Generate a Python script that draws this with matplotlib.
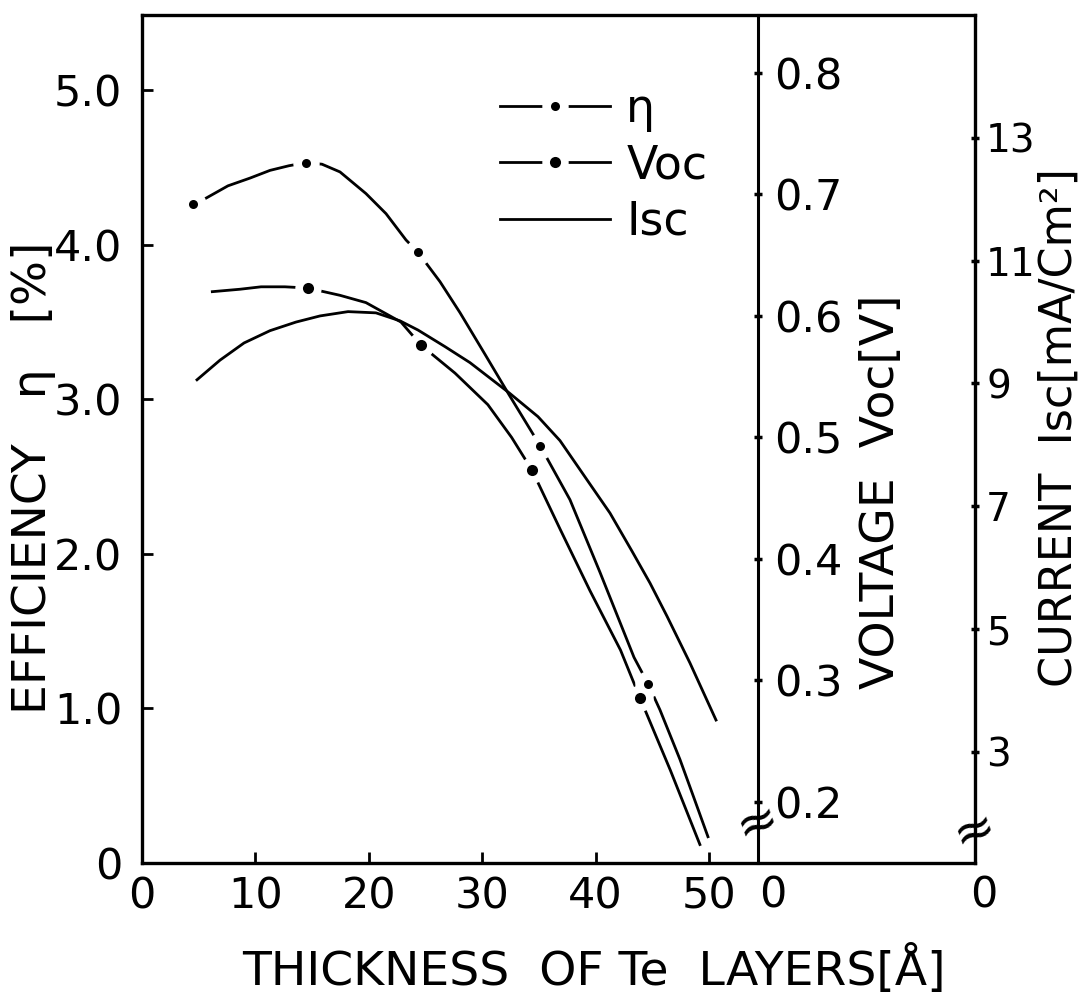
import matplotlib.pyplot as plt
from matplotlib.lines import Line2D
from matplotlib.legend_handler import HandlerTuple

# values (thickness of Te layers in Angstrom)
eta_x = [4.5, 5.64, 7.58, 9.52, 11.29, 12.96, 14.46, 15.87, 17.46, 19.75, 21.52, 23.28, 24.34,
         26.28, 28.04, 30.25, 32.36, 35.1, 37.74, 40.39, 43.39, 44.62, 45.68, 47.44, 48.68, 49.91]
eta_y = [4.26, 4.30, 4.38, 4.43, 4.48, 4.51, 4.53, 4.52, 4.47, 4.33, 4.20, 4.03, 3.95,
         3.76, 3.56, 3.29, 3.03, 2.70, 2.35, 1.88, 1.33, 1.16, 0.99, 0.67, 0.42, 0.17]
eta_pt_x = [4.5, 14.46, 24.34, 35.1, 44.62]
eta_pt_y = [4.26, 4.53, 3.95, 2.70, 1.16]

voc_x = [6.2, 8.64, 10.5, 12.6, 14.6, 17.46, 19.75, 22.84, 24.6, 27.6, 30.5, 32.6, 34.4,
         36.9, 39.5, 42.2, 43.9, 46.6, 49.2]
voc_y = [0.620, 0.622, 0.624, 0.624, 0.623, 0.617, 0.611, 0.595, 0.576, 0.553, 0.527, 0.500, 0.473,
         0.424, 0.374, 0.325, 0.286, 0.226, 0.165]
voc_pt_x = [14.6, 24.6, 34.4, 43.9]
voc_pt_y = [0.623, 0.576, 0.473, 0.286]

isc_x = [4.85, 6.88, 9.0, 11.29, 13.58, 15.7, 18.17, 20.63, 22.75, 24.34, 26.72, 28.92, 32.36,
         34.92, 36.86, 39.51, 41.27, 43.21, 44.8, 46.3, 48.32, 50.62]
isc_y = [9.06, 9.38, 9.66, 9.86, 10.00, 10.10, 10.17, 10.15, 10.02, 9.87, 9.60, 9.34, 8.85,
         8.46, 8.07, 7.36, 6.89, 6.27, 5.75, 5.21, 4.45, 3.52]

x_ticks = [0, 10, 20, 30, 40, 50]
eff_ticks = [0, 1, 2, 3, 4, 5]
eff_labels = ['0', '1.0', '2.0', '3.0', '4.0', '5.0']
voc_ticks = [0.2, 0.3, 0.4, 0.5, 0.6, 0.7, 0.8]
isc_ticks = [3, 5, 7, 9, 11, 13]

voc_axis_at = 54.3   # thickness where the Voc axis is drawn
x_max = 73.46

FS = 31
LFS = 34
plt.rcParams['font.family'] = ['DejaVu Sans']

fig = plt.figure(figsize=(10.91, 9.99), dpi=100)
ax = fig.add_axes([142 / 1091, 1 - 863 / 999, 833 / 1091, 848 / 999])
axv = ax.twinx()
axi = ax.twinx()

# efficiency and Voc curves
ax.plot(eta_x, eta_y, color='k', lw=2)
axv.plot(voc_x, voc_y, color='k', lw=2)

# measured points with a white gap round them, then Isc on top
axi.plot(eta_pt_x, eta_pt_y, 'o', color='white', ms=19, mew=0, transform=ax.transData, zorder=3)
axi.plot(voc_pt_x, voc_pt_y, 'o', color='white', ms=19, mew=0, transform=axv.transData, zorder=3)
axi.plot(eta_pt_x, eta_pt_y, 'o', color='k', ms=6.5, mew=0, transform=ax.transData, zorder=4)
axi.plot(voc_pt_x, voc_pt_y, 'o', color='k', ms=8, mew=0, transform=axv.transData, zorder=4)
axi.plot(isc_x, isc_y, color='k', lw=2, zorder=5)

ax.set_xlim(0, x_max)
ax.set_ylim(0, 5.485)
axv.set_ylim(0.1498, 0.8477)
axi.set_ylim(1.192, 15.0)

# spines
for s in ['left', 'bottom', 'top']:
    ax.spines[s].set_linewidth(2.4)
ax.spines['right'].set_visible(False)
for s in ['left', 'bottom', 'top']:
    axv.spines[s].set_visible(False)
    axi.spines[s].set_visible(False)
axv.spines['right'].set_position(('data', voc_axis_at))
axv.spines['right'].set_linewidth(2.2)
axi.spines['right'].set_linewidth(2.4)

# ticks
ax.set_xticks(x_ticks)
ax.set_xticklabels([str(v) for v in x_ticks])
ax.set_yticks(eff_ticks)
ax.set_yticklabels(eff_labels)
ax.tick_params(axis='both', direction='in', length=8, width=2, labelsize=FS, top=False, right=False)
ax.tick_params(axis='y', pad=14)
ax.tick_params(axis='x', pad=9)

axv.set_yticks(voc_ticks)
axv.set_yticklabels(['%.1f' % v for v in voc_ticks])
axv.tick_params(axis='y', direction='inout', length=6, width=2.5, labelsize=FS, pad=9)

axi.set_yticks(isc_ticks)
axi.set_yticklabels([str(v) for v in isc_ticks])
axi.tick_params(axis='y', direction='inout', length=6, width=2.5, labelsize=28, pad=5)

# zero labels under the Voc and Isc axes
ax.annotate('0', xy=(voc_axis_at, 0), xycoords=('data', 'axes fraction'), xytext=(11, -8),
            textcoords='offset points', ha='center', va='top', fontsize=FS)
ax.annotate('0', xy=(x_max, 0), xycoords=('data', 'axes fraction'), xytext=(6.5, -8),
            textcoords='offset points', ha='center', va='top', fontsize=FS)

# axis breaks
ax.text(voc_axis_at, 0.26, '\u2248', fontsize=36, rotation=20, ha='center', va='center')
ax.text(x_max, 0.21, '\u2248', fontsize=36, rotation=20, ha='center', va='center', clip_on=False)

# labels
ax.set_xlabel('THICKNESS  OF Te  LAYERS[\u00c5]', fontsize=LFS)
ax.xaxis.set_label_coords(0.543, -0.144)
ax.xaxis.label.set_va('baseline')
ax.set_ylabel('EFFICIENCY   \u03b7   [%]', fontsize=LFS)
ax.yaxis.set_label_coords(-0.103, 0.454)
axv.set_ylabel('VOLTAGE  Voc[V]', fontsize=LFS)
axv.yaxis.set_label_coords(0.861, 0.4375)
axi.set_ylabel('CURRENT  Isc[mA/Cm\u00b2]', fontsize=32)
axi.yaxis.set_label_coords(1.075, 0.513)

# legend
h_eta = (Line2D([], [], color='k', lw=2),
         Line2D([], [], ls='none', marker='o', color='white', ms=19, mew=0),
         Line2D([], [], ls='none', marker='o', color='k', ms=6.5, mew=0))
h_voc = (Line2D([], [], color='k', lw=2),
         Line2D([], [], ls='none', marker='o', color='white', ms=19, mew=0),
         Line2D([], [], ls='none', marker='o', color='k', ms=8, mew=0))
h_isc = Line2D([], [], color='k', lw=2)
axi.legend([h_eta, h_voc, h_isc], ['\u03b7', 'Voc', 'Isc'], loc='upper left',
           bbox_to_anchor=(0.43, 0.915), frameon=False, fontsize=33,
           handlelength=2.4, handletextpad=0.35, labelspacing=0.25,
           borderpad=0, borderaxespad=0, numpoints=1,
           handler_map={tuple: HandlerTuple(ndivide=1)})

fig.savefig('out.png', dpi=100)
